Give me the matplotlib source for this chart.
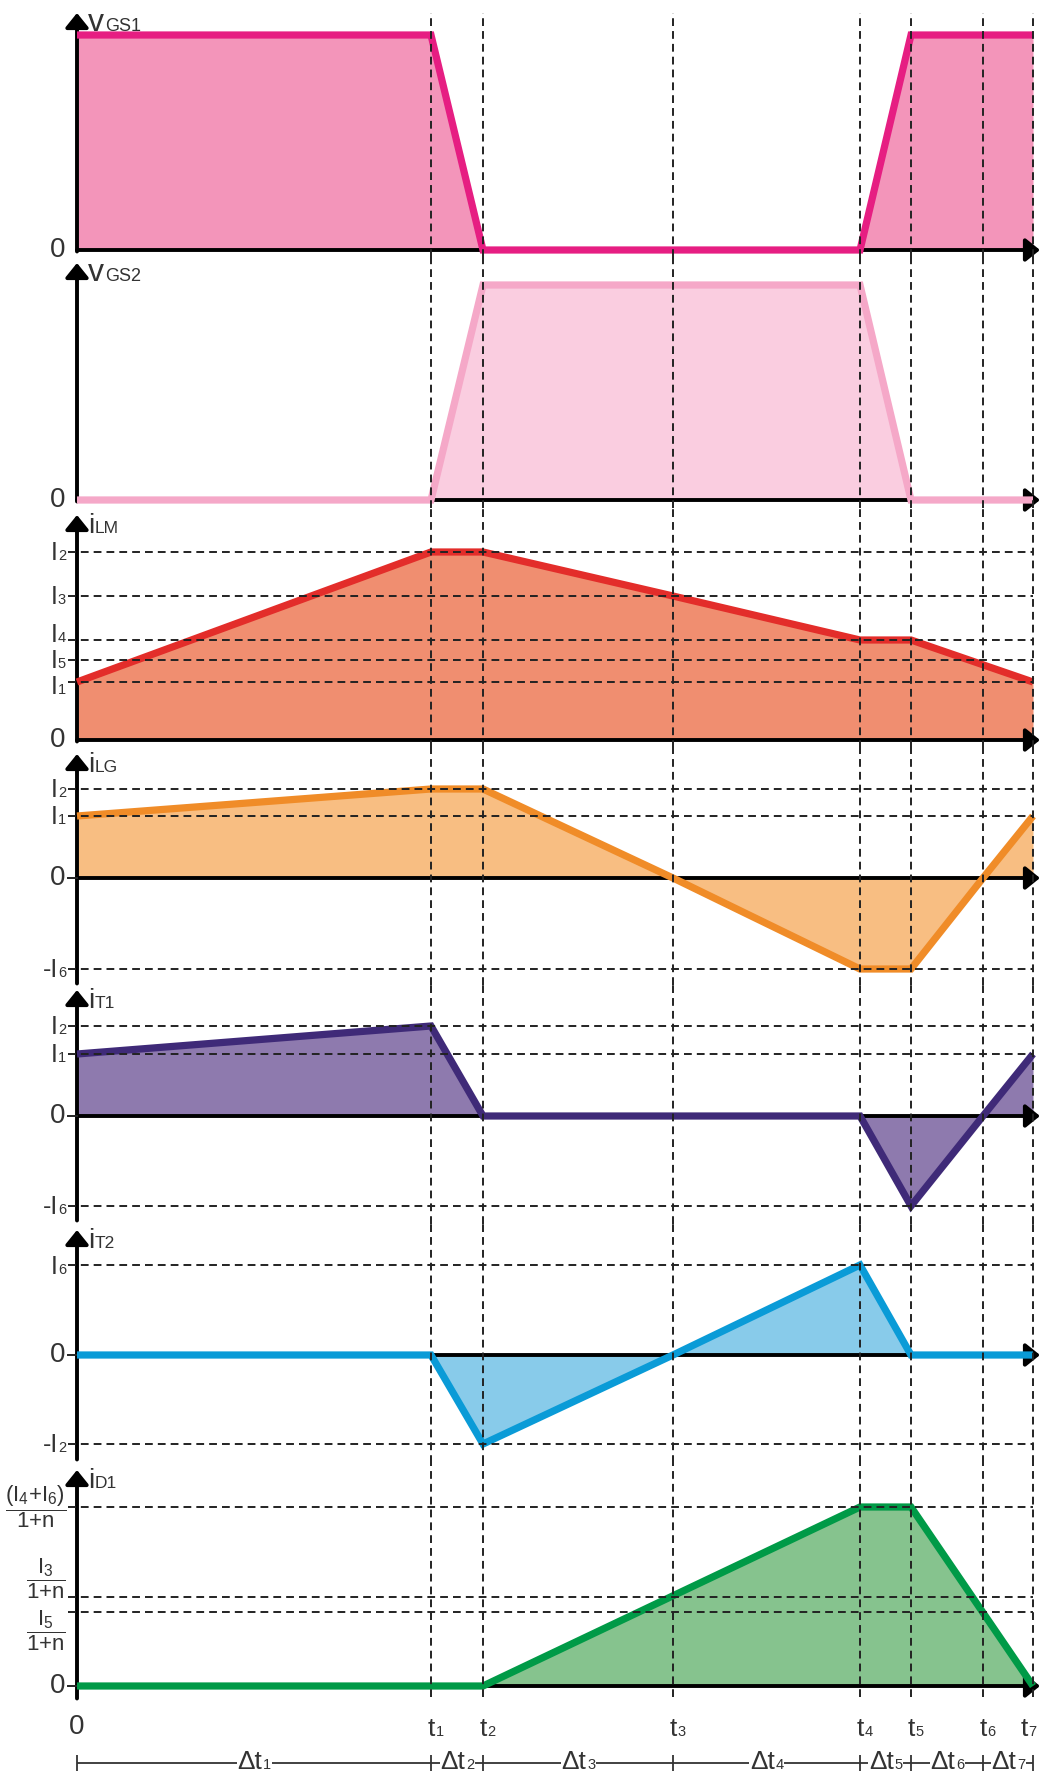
import matplotlib.pyplot as plt

plt.rcParams['font.family'] = ['Liberation Sans', 'DejaVu Sans']
plt.rcParams['mathtext.fontset'] = 'custom'
plt.rcParams['mathtext.rm'] = 'Liberation Sans'
plt.rcParams['mathtext.it'] = 'Liberation Sans'
plt.rcParams['mathtext.bf'] = 'Liberation Sans:bold'
plt.rcParams['mathtext.default'] = 'regular'

# switching instants t0..t7
t = [0, 354, 406, 596, 783, 834, 906, 956]
t0, t1, t2, t3, t4, t5, t6, t7 = t
t_subs = ['1', '2', '3', '4', '5', '6', '7']
dt_subs = ['1', '2', '3', '4', '5', '6', '7']

# gate voltages (normalised)
vgs1_t = [t0, t1, t2, t4, t5, t7]
vgs1 = [1, 1, 0, 0, 1, 1]
vgs2_t = [t0, t1, t2, t4, t5, t7]
vgs2 = [0, 0, 1, 1, 0, 0]

# magnetizing inductance current
ilm_t = [t0, t1, t2, t3, t4, t5, t7]
ilm = [0.58, 1.88, 1.88, 1.44, 1.00, 1.00, 0.58]
ilm_levels = [1.88, 1.44, 1.00, 0.80, 0.58]
ilm_names = [('I', '2'), ('I', '3'), ('I', '4'), ('I', '5'), ('I', '1')]

# leakage inductance current
ilg_t = [t0, t1, t2, t3, t4, t5, t6, t7]
ilg = [0.62, 0.89, 0.89, 0, -0.91, -0.91, 0, 0.62]
ilg_levels = [0.89, 0.62, -0.91]
ilg_names = [('I', '2'), ('I', '1'), ('-I', '6')]

# switch currents
it1_t = [t0, t1, t2, t4, t5, t6, t7]
it1 = [0.62, 0.90, 0, 0, -0.90, 0, 0.62]
it1_levels = [0.90, 0.62, -0.90]
it1_names = [('I', '2'), ('I', '1'), ('-I', '6')]

it2_t = [t0, t1, t2, t3, t4, t5, t7]
it2 = [0, 0, -0.89, 0, 0.90, 0, 0]
it2_levels = [0.90, -0.89]
it2_names = [('I', '6'), ('-I', '2')]

# diode current
id1_t = [t0, t2, t4, t5, t7]
id1 = [0, 0, 1.79, 1.79, 0]
id1_levels = [1.79, 0.89, 0.74]
id1_names = [r'$\dfrac{(I_4{+}I_6)}{1{+}n}$', r'$\dfrac{I_3}{1{+}n}$', r'$\dfrac{I_5}{1{+}n}$']

W, H = 1040, 1773
X0 = 77  # pixel column of the vertical axes
fig = plt.figure(figsize=(W / 100, H / 100), dpi=100)

TXT = '#333333'
DASH = (0, (4, 2.6))
arrow = dict(arrowstyle='-|>,head_length=0.62,head_width=0.5', color='k',
             lw=2.8, shrinkA=0, shrinkB=0, mutation_scale=14)


def panel(top, bot, zero, scale, tip, axis_bot, vtop, vbot):
    ax = fig.add_axes([0, 1 - bot / H, 1, (bot - top) / H])
    ax.set_xlim(-X0, W - X0)
    ax.set_ylim((zero - bot) / scale, (zero - top) / scale)
    ax.axis('off')

    def row(y):
        return (zero - y) / scale

    # dashed time markers
    ax.vlines(t[1:], row(vbot), row(vtop), colors='#222222', lw=1.4,
              linestyles=DASH, zorder=5)
    # axes with arrow heads
    ax.annotate('', xy=(0, row(tip)), xytext=(0, row(axis_bot + 1.5)),
                arrowprops=arrow, annotation_clip=False, zorder=3)
    ax.annotate('', xy=(W - X0, 0), xytext=(0, 0),
                arrowprops=arrow, annotation_clip=False, zorder=3)
    return ax, row


def wave(ax, times, vals, line_c, fill_c):
    ax.fill_between(times, vals, 0, color=fill_c, lw=0, zorder=1)
    ax.plot(times, vals, color=line_c, lw=5.2, solid_joinstyle='miter',
            solid_capstyle='butt', zorder=4)


def subtext(ax, x, base, main, sub, fs, sfs, ha='left', **kw):
    """Big letter followed by a small index sitting on the same baseline."""
    if ha == 'right':
        s = ax.text(x, base, sub, ha='right', va='baseline', fontsize=sfs,
                    color=TXT, **kw)
        ax.annotate(main, xy=(0, base), xycoords=(s, 'data'), ha='right',
                    va='baseline', fontsize=fs, color=TXT, **kw)
    else:
        m = ax.text(x, base, main, ha=ha, va='baseline', fontsize=fs,
                    color=TXT, **kw)
        ax.annotate(sub, xy=(1, base), xycoords=(m, 'data'), xytext=(0.5, 0),
                    textcoords='offset points', ha='left', va='baseline',
                    fontsize=sfs, color=TXT, **kw)


def levels(ax, row, vals, names, label_px=None):
    ax.hlines(vals, -9, t7, colors='#222222', lw=1.4, linestyles=DASH, zorder=5)
    half_cap = row(8.5) - row(0)
    for i, (v, (m, s)) in enumerate(zip(vals, names)):
        base = row(label_px[i]) + half_cap if label_px else v + half_cap
        subtext(ax, -11, base, m, s, 18, 10.5, ha='right')


def zero_label(ax, tick=False):
    ax.text(-12, 0, '0', ha='right', va='center', fontsize=20, color=TXT)
    if tick:
        ax.plot([-9, 0], [0, 0], color='#222222', lw=1.4, zorder=3)


def title(ax, row, tip, main, sub, fs, sfs):
    subtext(ax, 11, row(tip + 18), main, sub, fs, sfs)


# v_GS1
ax, row = panel(0, 257, 250, 215, 13, 250, 13, 257)
wave(ax, vgs1_t, vgs1, '#E61E82', '#F395BA')
zero_label(ax)
title(ax, row, 13, 'v', 'GS1', 23, 13)

# v_GS2
ax, row = panel(257, 508, 500, 215, 263, 500, 257, 508)
wave(ax, vgs2_t, vgs2, '#F5A8C8', '#FACDE0')
zero_label(ax)
title(ax, row, 263, 'v', 'GS2', 23, 13)

# i_LM
ax, row = panel(508, 748, 740, 100, 515, 740, 508, 748)
wave(ax, ilm_t, ilm, '#E32D2A', '#F08E70')
levels(ax, row, ilm_levels, ilm_names, label_px=[552, 596, 634, 659, 685])
zero_label(ax)
title(ax, row, 515, 'i', 'LM', 20, 12.5)

# i_LG
ax, row = panel(748, 985, 878, 100, 754, 982, 748, 985)
wave(ax, ilg_t, ilg, '#F08C28', '#F8BE82')
levels(ax, row, ilg_levels, ilg_names)
zero_label(ax, tick=True)
title(ax, row, 754, 'i', 'LG', 20, 12.5)

# i_T1
ax, row = panel(985, 1224, 1116, 100, 990, 1219, 985, 1224)
wave(ax, it1_t, it1, '#3F2A78', '#8E7AAE')
levels(ax, row, it1_levels, it1_names)
zero_label(ax, tick=True)
title(ax, row, 990, 'i', 'T1', 20, 12.5)

# i_T2
ax, row = panel(1224, 1463, 1355, 100, 1230, 1458, 1224, 1463)
wave(ax, it2_t, it2, '#0A9BD7', '#88CBEA')
levels(ax, row, it2_levels, it2_names)
zero_label(ax, tick=True)
title(ax, row, 1230, 'i', 'T2', 20, 12.5)

# i_D1 with time axis labels underneath
ax, row = panel(1463, 1773, 1686, 100, 1470, 1697, 1463, 1697)
wave(ax, id1_t, id1, '#009A47', '#86C38E')
ax.hlines(id1_levels, -9, t7, colors='#222222', lw=1.4, linestyles=DASH, zorder=5)
for y_px, n in zip([1507, 1579, 1631], id1_names):
    ax.text(-11, row(y_px), n, ha='right', va='center', fontsize=16, color=TXT)
zero_label(ax, tick=True)
title(ax, row, 1470, 'i', 'D1', 20, 12.5)

ax.text(t0, row(1727), '0', ha='center', va='center', fontsize=20, color=TXT)
for x, s in zip(t[1:], t_subs):
    subtext(ax, min(x, W - X0 - 16), row(1736), 't', s, 19, 10.5, ha='center')

ax.hlines(row(1763), 0, t7, colors=TXT, lw=1.3)
ax.vlines(t, row(1771), row(1755), colors=TXT, lw=1.3)
box = dict(fc='white', ec='none', pad=0.5)
for a, b, s in zip(t[:-1], t[1:], dt_subs):
    subtext(ax, (a + b) / 2 - 4, row(1769), 'Δt', s, 19, 10.5, ha='center',
            bbox=box)

fig.savefig('out.png', dpi=100)
